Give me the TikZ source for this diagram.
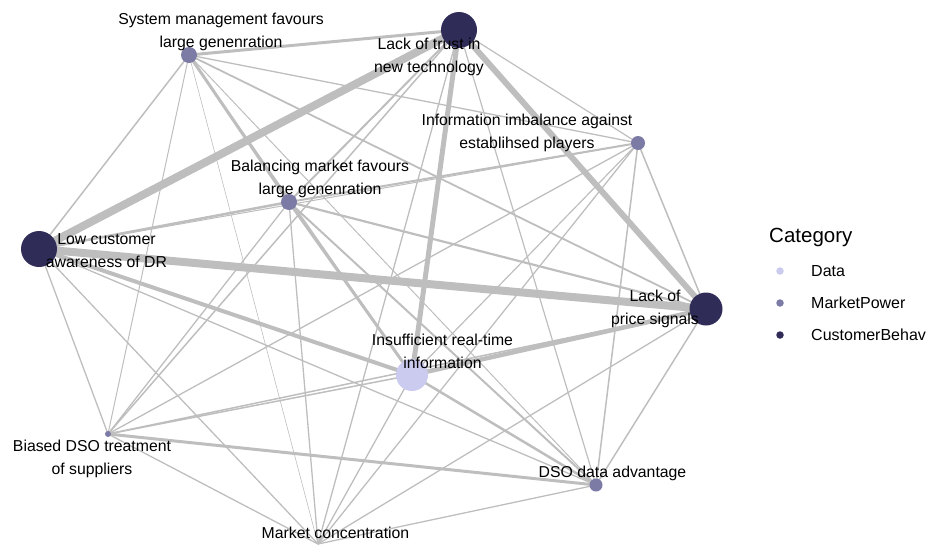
\documentclass[tikz,border=0pt]{standalone}
\usepackage{fontspec}
\setmainfont{Liberation Sans}
\usetikzlibrary{backgrounds}
\definecolor{edgegray}{RGB}{190,190,190}
\definecolor{catdata}{RGB}{203,203,240}
\definecolor{catmarket}{RGB}{123,123,166}
\definecolor{catcust}{RGB}{47,45,88}
\tikzset{
  barrier/.style={circle, inner sep=0pt, minimum size=#1},
  link/.style={draw=edgegray, line cap=butt},
  lbl/.style={align=center, inner sep=0pt, font=\fontsize{15.8}{23}\selectfont},
  legdot/.style={circle, inner sep=0pt, minimum size=7.5pt},
  legtxt/.style={anchor=west, inner sep=0pt, font=\fontsize{16}{18}\selectfont}
}
\begin{document}
\begin{tikzpicture}[x=1pt,y=-1pt]
\useasboundingbox (0,0) rectangle (929,544);

% barriers
\node[barrier=16pt, fill=catmarket] (sm) at (189,55) {};
\node[barrier=36pt, fill=catcust]   (lt) at (459,30) {};
\node[barrier=14pt, fill=catmarket] (ii) at (638,143) {};
\node[barrier=16pt, fill=catmarket] (bm) at (289,202) {};
\node[barrier=36pt, fill=catcust]   (lc) at (39,249) {};
\node[barrier=33pt, fill=catcust]   (lp) at (706,309) {};
\node[barrier=32pt, fill=catdata]   (ir) at (412,375) {};
\node[barrier=6pt,  fill=catmarket] (bd) at (108,434) {};
\node[barrier=13pt, fill=catmarket] (dd) at (596,485) {};
\node[barrier=0pt] (mc) at (318,544) {};

% co-occurrence links, width by strength
\begin{pgfonlayer}{background}
\foreach \a/\b/\w in {
  sm/lt/3, sm/ii/1.3, sm/bm/3, sm/lc/1.5, sm/lp/1.8, sm/ir/1.0, sm/dd/1.0, sm/bd/1.0, sm/mc/0.6,
  lt/lc/8, lt/lp/6, lt/ir/5, lt/ii/1.2, lt/bm/2, lt/bd/1.5, lt/mc/1.3, lt/dd/1.2,
  ii/bm/2, ii/lp/1.5, ii/dd/1.5, ii/ir/1.2, ii/lc/1.0, ii/bd/1.3, ii/mc/1.3,
  bm/lc/2.5, bm/lp/2.2, bm/ir/3, bm/dd/2, bm/bd/1.3, bm/mc/1.3,
  lc/lp/8, lc/ir/4, lc/dd/1.3, lc/bd/1.3, lc/mc/1.3,
  lp/ir/4.5, lp/dd/1.5, lp/bd/1.5, lp/mc/1.3,
  ir/dd/2.5, ir/bd/1.5, ir/mc/1.3,
  dd/bd/3, dd/mc/1.3, bd/mc/1.3}
  \draw[link, line width=\w pt] (\a.center) -- (\b.center);
\end{pgfonlayer}

% labels
\node[lbl] (sm-l) at (221,31.5) {System management favours\\large genenration};
\node[lbl] (lt-l) at (429,56.5) {Lack of trust in\\new technology};
\node[lbl] (ii-l) at (527,133) {Information imbalance against\\establihsed players};
\node[lbl] (bm-l) at (320,178.5) {Balancing market favours\\large genenration};
\node[lbl] (lc-l) at (106.5,251) {Low customer\\awareness of DR};
\node[lbl] (lp-l) at (655,309) {Lack of\\price signals};
\node[lbl] (ir-l) at (442.5,351) {Insufficient real-time\\information};
\node[lbl] (bd-l) at (92,459) {Biased DSO treatment\\of suppliers};
\node[lbl] (dd-l) at (612.5,473) {DSO data advantage};
\node[lbl] (mc-l) at (335.5,533) {Market concentration};

% legend
\node[anchor=west, inner sep=0pt, font=\fontsize{20.5}{24}\selectfont] (leg-t) at (769,237) {Category};
\node[legdot, fill=catdata]   (leg-d1) at (780,271) {};
\node[legdot, fill=catmarket] (leg-d2) at (780,303) {};
\node[legdot, fill=catcust]   (leg-d3) at (780,335) {};
\node[legtxt] (leg-x1) at (811,271) {Data};
\node[legtxt] (leg-x2) at (811,303) {MarketPower};
\node[legtxt] (leg-x3) at (811,335) {CustomerBehav};
\end{tikzpicture}
\end{document}
